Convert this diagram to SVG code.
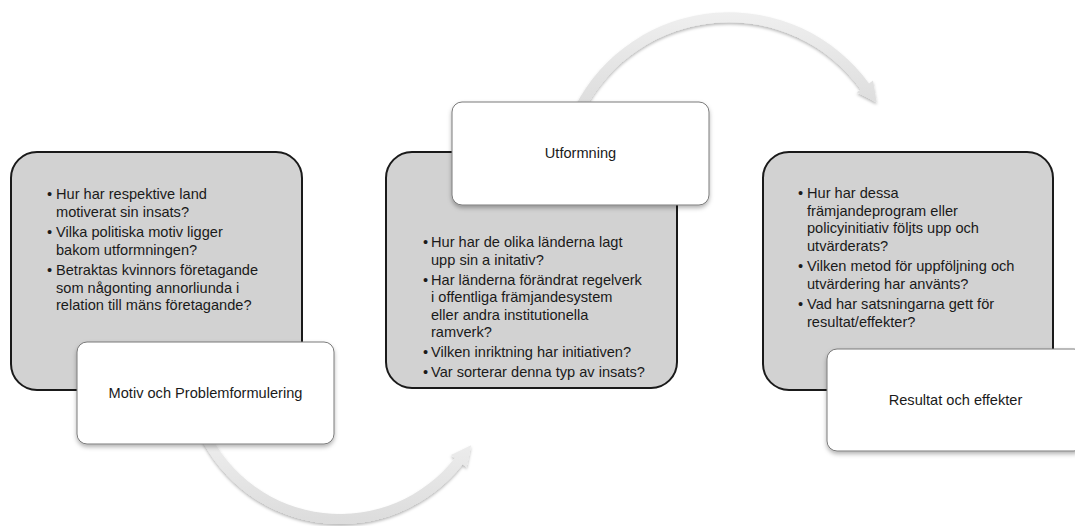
<svg xmlns="http://www.w3.org/2000/svg" width="1075" height="526" viewBox="0 0 1075 526">
<style>
.grey{fill:#d2d2d2;stroke:#1a1a1a;stroke-width:2}
.white{fill:#ffffff;stroke:#7a7a7a;stroke-width:1}
.t{font-family:"Liberation Sans",Arial,sans-serif;font-size:14.6px;fill:#1a1a1a}
.lbl{font-family:"Liberation Sans",Arial,sans-serif;font-size:14.6px;fill:#1a1a1a;text-anchor:middle}
.arc{fill:url(#arcGrad);filter:url(#arcShadow)}
</style>
<defs>
<linearGradient id="arcGrad" x1="0" y1="0" x2="0" y2="1">
<stop offset="0" stop-color="#efefef"/>
<stop offset="1" stop-color="#dcdcdc"/>
</linearGradient>
<filter id="arcShadow" x="-10%" y="-10%" width="120%" height="130%">
<feDropShadow dx="0" dy="2" stdDeviation="1.8" flood-color="#000" flood-opacity="0.28"/>
</filter>
<filter id="boxShadow" x="-10%" y="-10%" width="120%" height="140%">
<feDropShadow dx="0" dy="2.5" stdDeviation="2" flood-color="#000" flood-opacity="0.3"/>
</filter>
</defs>
<rect width="1075" height="526" fill="#ffffff"/>

<g id="connectors">
<path class="arc" d="M198.9,434.1 A155.7,155.7 0 0 0 462.7,464.2 L466.6,467.2 L471.1,445.3 L450.9,454.9 L454.8,458.0 A145.7,145.7 0 0 1 207.9,429.9 Z"/>
<path class="arc" d="M574.9,106.7 A173,173 0 0 1 869.0,83.5 L873.0,80.5 L876.7,102.6 L856.8,92.3 L860.9,89.4 A163,163 0 0 0 583.8,111.2 Z"/>
</g>

<g id="node-motiv">
<rect class="grey" x="11" y="152" width="291" height="238" rx="26"/>
<text class="t" x="47" y="199">•</text><text class="t" x="56" y="199">Hur har respektive land</text>
<text class="t" x="56" y="216.5">motiverat sin insats?</text>
<text class="t" x="47" y="237">•</text><text class="t" x="56" y="237">Vilka politiska motiv ligger</text>
<text class="t" x="56" y="254.5">bakom utformningen?</text>
<text class="t" x="47" y="275">•</text><text class="t" x="56" y="275">Betraktas kvinnors företagande</text>
<text class="t" x="56" y="292.5">som någonting annorliunda i</text>
<text class="t" x="56" y="310">relation till mäns företagande?</text>
</g>
<g id="label-motiv">
<rect class="white" x="77" y="342" width="257" height="102" rx="10" filter="url(#boxShadow)"/>
<text class="lbl" x="205.5" y="398">Motiv och Problemformulering</text>
</g>

<g id="node-utformning">
<rect class="grey" x="386" y="152" width="291" height="236" rx="26"/>
<text class="t" x="423" y="247">•</text><text class="t" x="431" y="247">Hur har de olika länderna lagt</text>
<text class="t" x="431" y="264.5">upp sin a initativ?</text>
<text class="t" x="423" y="284.5">•</text><text class="t" x="431" y="284.5">Har länderna förändrat regelverk</text>
<text class="t" x="431" y="302">i offentliga främjandesystem</text>
<text class="t" x="431" y="319.5">eller andra institutionella</text>
<text class="t" x="431" y="337">ramverk?</text>
<text class="t" x="423" y="357">•</text><text class="t" x="431" y="357">Vilken inriktning har initiativen?</text>
<text class="t" x="423" y="377">•</text><text class="t" x="431" y="377">Var sorterar denna typ av insats?</text>
</g>
<g id="label-utformning">
<rect class="white" x="452" y="102" width="257" height="103" rx="10" filter="url(#boxShadow)"/>
<text class="lbl" x="580.5" y="158">Utformning</text>
</g>

<g id="node-resultat">
<rect class="grey" x="763" y="152" width="290" height="238" rx="26"/>
<text class="t" x="798" y="198">•</text><text class="t" x="807" y="198">Hur har dessa</text>
<text class="t" x="807" y="215.5">främjandeprogram eller</text>
<text class="t" x="807" y="233">policyinitiativ följts upp och</text>
<text class="t" x="807" y="250.5">utvärderats?</text>
<text class="t" x="798" y="271">•</text><text class="t" x="807" y="271">Vilken metod för uppföljning och</text>
<text class="t" x="807" y="288.5">utvärdering har använts?</text>
<text class="t" x="798" y="309">•</text><text class="t" x="807" y="309">Vad har satsningarna gett för</text>
<text class="t" x="807" y="326.5">resultat/effekter?</text>
</g>
<g id="label-resultat">
<rect class="white" x="827" y="349" width="257" height="102" rx="10" filter="url(#boxShadow)"/>
<text class="lbl" x="955.5" y="405">Resultat och effekter</text>
</g>
</svg>
